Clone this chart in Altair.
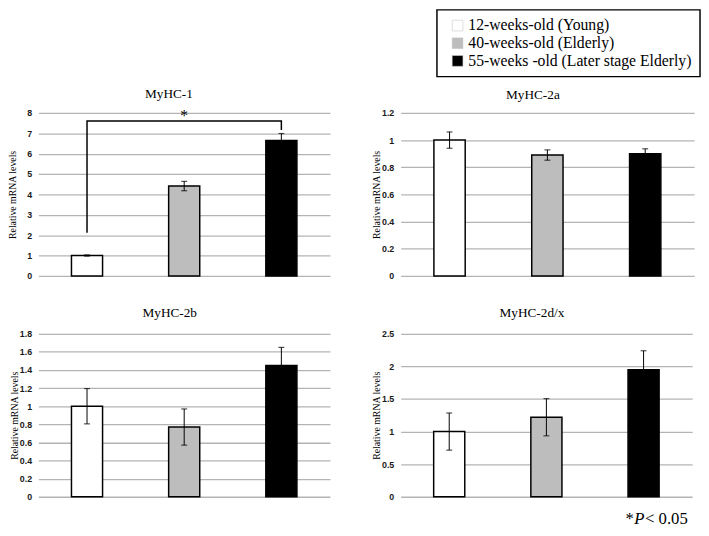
import altair as alt
import pandas as pd

# ---------------- data ----------------
groups = ["12-weeks-old (Young)", "40-weeks-old (Elderly)", "55-weeks -old (Later stage Elderly)"]
group_colors = ["#ffffff", "#bdbdbd", "#000000"]
genes = ["MyHC-1", "MyHC-2a", "MyHC-2b", "MyHC-2d/x"]

mean_myhc1 = [1.0, 4.41, 6.65]
err_myhc1 = [0.03, 0.23, 0.34]
mean_myhc2a = [1.0, 0.89, 0.90]
err_myhc2a = [0.06, 0.038, 0.036]
mean_myhc2b = [1.0, 0.77, 1.45]
err_myhc2b = [0.195, 0.20, 0.20]
mean_myhc2dx = [1.0, 1.22, 1.95]
err_myhc2dx = [0.285, 0.285, 0.29]

y_max = {"MyHC-1": 8, "MyHC-2a": 1.2, "MyHC-2b": 1.8, "MyHC-2d/x": 2.5}
y_ticks = {
    "MyHC-1": [0, 1, 2, 3, 4, 5, 6, 7, 8],
    "MyHC-2a": [0, 0.2, 0.4, 0.6, 0.8, 1, 1.2],
    "MyHC-2b": [0, 0.2, 0.4, 0.6, 0.8, 1, 1.2, 1.4, 1.6, 1.8],
    "MyHC-2d/x": [0, 0.5, 1, 1.5, 2, 2.5],
}

# significance bracket (MyHC-1, young vs. later-stage elderly)
sig_groups = [groups[0], groups[0], groups[2], groups[2]]
sig_levels = [2.12, 7.61, 7.61, 7.16]
sig_star_level = 7.85

means = {"MyHC-1": mean_myhc1, "MyHC-2a": mean_myhc2a, "MyHC-2b": mean_myhc2b, "MyHC-2d/x": mean_myhc2dx}
errs = {"MyHC-1": err_myhc1, "MyHC-2a": err_myhc2a, "MyHC-2b": err_myhc2b, "MyHC-2d/x": err_myhc2dx}

rows = []
for g in genes:
    for grp, m, e in zip(groups, means[g], errs[g]):
        rows.append({"gene": g, "group": grp, "mean": m, "lo": m - e, "hi": m + e})
df = pd.DataFrame(rows)

sig_df = pd.DataFrame({"group": sig_groups, "level": sig_levels, "step": list(range(len(sig_groups)))})
star_df = pd.DataFrame({"group": [groups[1]], "level": [sig_star_level], "label": ["*"]})

SERIF = "Liberation Serif"
SANS = "Liberation Sans"

legend_def = alt.Legend(
    title=None,
    orient="none",
    legendX=406,
    legendY=-105,
    symbolType="square",
    symbolSize=120,
    symbolOffset=5,
    symbolStrokeColor="#c8c8c8",
    symbolStrokeWidth=0.6,
    labelFont=SERIF,
    labelFontSize=16,
    labelColor="black",
    labelLimit=400,
    labelOffset=3,
    rowPadding=2,
    padding=8,
    strokeColor="black",
    fillColor="white",
)

color_enc = alt.Color(
    "group:N",
    sort=groups,
    scale=alt.Scale(domain=groups, range=group_colors),
    legend=legend_def,
)


def panel(gene, width, height=166, sig=False, footnote=False, title_offset=8, axis_title_x=None):
    d = df[df["gene"] == gene]
    xenc = alt.X(
        "group:N",
        sort=groups,
        scale=alt.Scale(domain=groups, paddingInner=0.68, paddingOuter=0.34),
        axis=None,
    )
    yscale = alt.Scale(domain=[0, y_max[gene]], nice=False, zero=True)
    axis_kw = dict(
        values=y_ticks[gene],
        format="~g",
        title="Relative mRNA levels",
        titleFont=SERIF,
        titleFontSize=10,
        titleFontWeight="normal",
        titleColor="black",
        titlePadding=0,
        labelFont=SANS,
        labelFontSize=9,
        labelFontWeight="bold",
        labelColor="#1a1a1a",
        labelPadding=7,
        domain=False,
        ticks=False,
        grid=True,
        gridColor="#b4b4b4",
        gridWidth=1.3,
    )
    if axis_title_x is not None:
        axis_kw["titleX"] = axis_title_x
    yaxis = alt.Axis(**axis_kw)

    def Y(field):
        return alt.Y(field, type="quantitative", scale=yscale, axis=yaxis)

    base = alt.Chart(d)
    bars = base.mark_bar(stroke="black", strokeWidth=1.5).encode(
        x=xenc, y=Y("mean"), color=color_enc
    )
    rule = base.mark_rule(color="black", strokeWidth=1).encode(x=xenc, y=Y("lo"), y2="hi:Q")
    cap_lo = base.mark_tick(color="black", size=6, thickness=1.2, orient="horizontal").encode(
        x=xenc, y=Y("lo")
    )
    cap_hi = base.mark_tick(color="black", size=6, thickness=1.2, orient="horizontal").encode(
        x=xenc, y=Y("hi")
    )
    layers = [bars, rule, cap_lo, cap_hi]

    if sig:
        line = alt.Chart(sig_df).mark_line(color="black", strokeWidth=1.5).encode(
            x=xenc, y=Y("level"), order="step:O"
        )
        star = alt.Chart(star_df).mark_text(
            font=SERIF, fontSize=16, color="black", baseline="middle"
        ).encode(x=xenc, y=Y("level"), text="label:N")
        layers += [line, star]

    if footnote:
        fn_base = alt.Chart(pd.DataFrame({"a": [0]}))
        fn1 = fn_base.mark_text(text="*", font=SERIF, fontSize=17, color="black", align="left", baseline="middle").encode(
            x=alt.value(229), y=alt.value(189)
        )
        fn2 = fn_base.mark_text(text="P", font=SERIF, fontSize=17, fontStyle="italic", color="black", align="left", baseline="middle").encode(
            x=alt.value(238), y=alt.value(189)
        )
        fn3 = fn_base.mark_text(text="< 0.05", font=SERIF, fontSize=17, color="black", align="left", baseline="middle").encode(
            x=alt.value(249), y=alt.value(189)
        )
        layers += [fn1, fn2, fn3]

    return alt.layer(*layers).properties(
        width=width,
        height=height,
        title=alt.TitleParams(
            gene,
            font=SERIF,
            fontSize=13.5,
            fontWeight="normal",
            color="black",
            frame="bounds",
            anchor="middle",
            offset=title_offset,
        ),
    )


p1 = panel("MyHC-1", 297, sig=True, axis_title_x=-21)
p2 = panel("MyHC-2a", 299)
p3 = panel("MyHC-2b", 297, title_offset=11)
p4 = panel("MyHC-2d/x", 297, footnote=True, title_offset=11)

chart = (
    alt.concat(p1, p2, p3, p4, columns=2, spacing={"row": 25, "column": 42})
    .properties(padding={"left": 0, "top": -4, "right": 0, "bottom": 0})
    .configure_view(stroke=None)
    .configure_legend(strokeWidth=1.5)
)

chart.save("out.html", embed_options={"renderer": "svg", "actions": False})
